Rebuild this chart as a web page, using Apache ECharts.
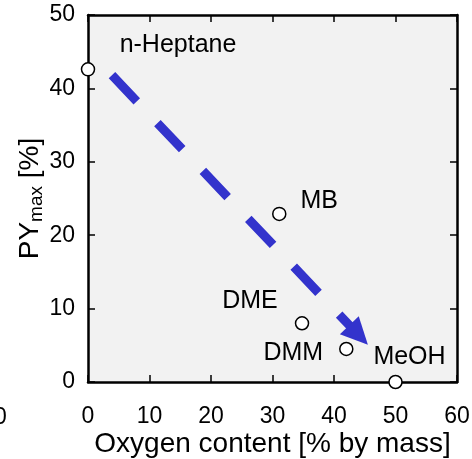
<!DOCTYPE html>
<html lang="en">
<head>
<meta charset="UTF-8">
<title>PYmax vs oxygen content</title>
<style>
  html, body { margin: 0; padding: 0; background: #fff; }
  #main { width: 472px; height: 459px; }
</style>
</head>
<body>
<div id="main"></div>
<script src="https://cdn.jsdelivr.net/npm/echarts@6/dist/echarts.min.js"></script>
<script>
  // data
  var fuels = ['n-Heptane', 'MB', 'DME', 'DMM', 'MeOH'];
  var oxygen = [0, 31.1, 34.8, 42.0, 50];      // % by mass
  var pyMax = [42.6, 22.9, 8.0, 4.5, 0];       // %
  var xTicks = [0, 10, 20, 30, 40, 50, 60];
  var yTicks = [0, 10, 20, 30, 40, 50];
  // trend arrow, start and head centre in data units
  var arrowFrom = [3.9, 41.8];
  var arrowTo = [44.0, 6.4];

  // label offsets (px) relative to each marker
  var labelOffsets = [[90, -24], [40, -13], [-52, -22], [-53, 4], [14, -25]];

  var font = 'Liberation Sans, Arial, sans-serif';
  var black = '#000';

  var points = fuels.map(function (f, i) {
    return {
      name: f,
      value: [oxygen[i], pyMax[i]],
      label: {
        show: true,
        position: 'inside',
        offset: labelOffsets[i],
        formatter: f,
        color: black,
        fontSize: 25,
        fontFamily: font
      }
    };
  });

  function xAxisCfg(pos) {
    var bottom = pos === 'bottom';
    return {
      type: 'value',
      position: pos,
      min: xTicks[0],
      max: xTicks[xTicks.length - 1],
      interval: 10,
      axisLine: { show: true, onZero: false, lineStyle: { color: black, width: 2.5 } },
      axisTick: { show: true, inside: true, length: 7, lineStyle: { color: black, width: 1.5 } },
      axisLabel: { show: bottom, color: black, fontSize: 23, fontFamily: font, margin: 23 },
      splitLine: { show: false },
      name: bottom ? 'Oxygen content [% by mass]' : '',
      nameLocation: 'middle',
      nameGap: 48,
      nameMoveOverlap: false,
      nameTextStyle: { color: black, fontSize: 28, fontFamily: font }
    };
  }

  function yAxisCfg(pos) {
    var left = pos === 'left';
    return {
      type: 'value',
      position: pos,
      min: yTicks[0],
      max: yTicks[yTicks.length - 1],
      interval: 10,
      axisLine: { show: true, onZero: false, lineStyle: { color: black, width: 2.5 } },
      axisTick: { show: true, inside: true, length: 7, lineStyle: { color: black, width: 1.5 } },
      axisLabel: { show: left, color: black, fontSize: 23, fontFamily: font, margin: 13 },
      splitLine: { show: false },
      name: left ? 'PY{sub|max} [%]' : '',
      nameLocation: 'middle',
      nameRotate: 90,
      nameGap: 42,
      nameMoveOverlap: false,
      nameTextStyle: {
        color: black,
        fontSize: 28,
        fontFamily: font,
        rich: {
          sub: { fontSize: 19, fontFamily: font, color: black, verticalAlign: 'bottom', padding: [12, 0, 0, 0] }
        }
      }
    };
  }

  var myChart = echarts.init(document.getElementById('main'));
  var option = {
    backgroundColor: '#fff',
    animation: false,
    grid: {
      left: 88, right: 15, top: 15, bottom: 77,
      show: true, backgroundColor: '#f2f2f2', borderWidth: 0,
      outerBoundsMode: 'none'
    },
    xAxis: [xAxisCfg('bottom'), xAxisCfg('top')],
    yAxis: [yAxisCfg('left'), yAxisCfg('right')],
    graphic: [{
      // clipped "0" peeking in at the left edge
      type: 'text',
      left: -6,
      top: 406,
      style: { text: '0', fill: black, fontSize: 23, fontFamily: font }
    }],
    series: [{
      type: 'scatter',
      data: [],
      silent: true,
      markLine: {
        silent: true,
        animation: false,
        symbol: ['none', 'triangle'],
        symbolSize: [26, 27],
        label: { show: false },
        lineStyle: { color: '#3333cc', width: 9, type: [36, 30], opacity: 1 },
        data: [[{ coord: arrowFrom }, { coord: arrowTo }]]
      }
    }, {
      type: 'scatter',
      clip: false,
      symbol: 'circle',
      symbolSize: 13,
      itemStyle: { color: '#fff', borderColor: black, borderWidth: 1.5, opacity: 1 },
      data: points,
      z: 5
    }]
  };
  myChart.setOption(option);
</script>
</body>
</html>
